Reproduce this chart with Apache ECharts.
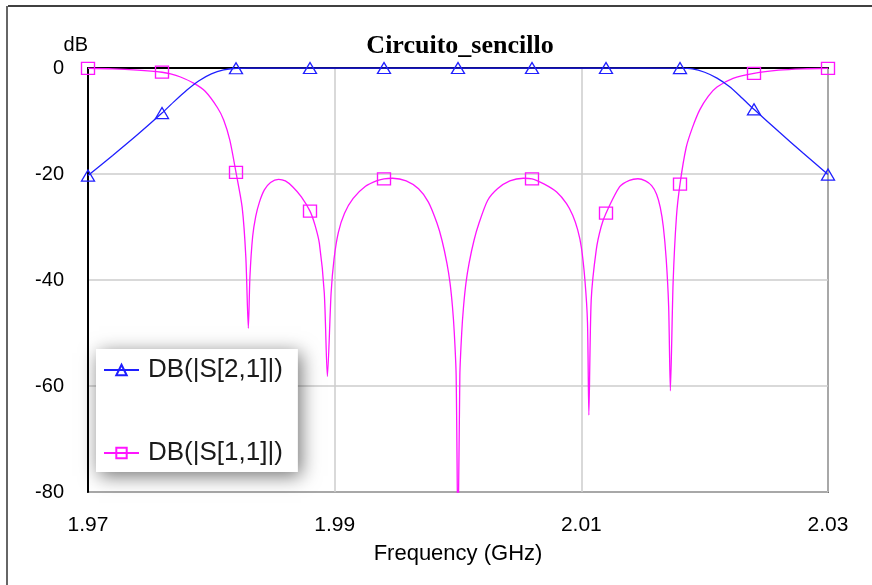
<!DOCTYPE html>
<html>
<head>
<meta charset="utf-8">
<script src="https://cdn.jsdelivr.net/npm/echarts@6/dist/echarts.min.js"></script>
<style>html,body{margin:0;padding:0;background:#fff}#c{width:872px;height:585px}</style>
</head>
<body>
<div id="c"></div>
<script>
// ---- data ----
const xTicks = [1.97, 1.99, 2.01, 2.03];
const markerFreqs = [1.970, 1.976, 1.982, 1.988, 1.994, 2.000, 2.006, 2.012, 2.018, 2.024, 2.030];

const s21Freq = [1.9700, 1.9720, 1.9740, 1.9760, 1.9770, 1.9780, 1.9790, 1.9800, 1.9810, 1.9820, 1.9830, 1.9880, 1.9940, 2.0000, 2.0060, 2.0120, 2.0180, 2.0190, 2.0200, 2.0210, 2.0220, 2.0230, 2.0240, 2.0260, 2.0280, 2.0300];
const s21dB   = [-20.3, -16.5, -12.6, -8.5, -6.3, -4.2, -2.4, -1.1, -0.35, -0.05, 0, 0, 0, 0, 0, 0, -0.02, -0.15, -0.8, -1.9, -3.5, -5.6, -7.8, -12.0, -16.1, -20.1];

const s11Freq = [
  1.9700, 1.9720, 1.9740, 1.9760, 1.9767, 1.9775, 1.9786, 1.9795, 1.9805, 1.9810, 1.9815, 1.9820, 1.9825, 1.9828, 1.98300,
  1.98313, 1.98335, 1.9836, 1.9839, 1.9843, 1.9848, 1.98545, 1.9860, 1.98659, 1.9873, 1.9880, 1.9884, 1.98876, 1.98916, 1.98941,
  1.98971, 1.98995, 1.9903, 1.9908, 1.9915, 1.9925, 1.9935, 1.9940, 1.9947, 1.9958, 1.9968, 1.9976, 1.9983, 1.9987, 1.9991, 1.99935, 1.99955, 1.9997, 1.99985, 2.0000,
  2.00015, 2.0003, 2.00045, 2.00065, 2.0009, 2.0013, 2.0017, 2.0024, 2.0032, 2.0042, 2.0053, 2.0060, 2.0070, 2.0080, 2.0088, 2.0093, 2.0097, 2.0100, 2.01029, 2.0105, 2.01061,
  2.0108, 2.01121, 2.0116, 2.0120, 2.01311, 2.0139, 2.01459, 2.0152, 2.0157, 2.0161, 2.0164, 2.01665, 2.01688, 2.01708, 2.01722,
  2.01744, 2.01771, 2.0180, 2.0185, 2.0190, 2.0196, 2.0203, 2.0210, 2.0223, 2.0240, 2.0260, 2.0280, 2.0300];
const s11dB = [
  -0.05, -0.15, -0.4, -0.8, -1.1, -1.7, -2.9, -4.4, -7.5, -9.8, -13.6, -19.7, -26.3, -35.8, -49.1,
  -39.4, -31.8, -28.0, -25.3, -23.0, -21.6, -21.0, -21.3, -22.4, -24.3, -27.0, -29.6, -33.1, -42.5, -58.2,
  -42.5, -36.0, -31.0, -27.4, -24.6, -22.3, -21.2, -20.9, -20.8, -21.3, -22.8, -25.3, -29.3, -32.5, -36.8, -40.5, -45.0, -50.0, -58.0, -90,
  -58.0, -50.0, -45.0, -40.5, -36.8, -32.5, -29.3, -25.0, -22.8, -21.3, -20.8, -20.9, -21.9, -23.4, -25.6, -27.8, -30.5, -33.8, -40.0, -48.0, -65.5,
  -43.8, -34.3, -30.0, -27.4, -22.4, -21.2, -20.9, -21.3, -22.2, -23.8, -26.3, -30.0, -36.0, -45.0, -60.9,
  -40.6, -28.1, -21.9, -15.0, -11.3, -7.9, -5.3, -3.6, -1.95, -1.0, -0.4, -0.15, -0.05];

const seriesNames = ['DB(|S[2,1]|)', 'DB(|S[1,1]|)'];

function build(freqs, vals, sym) {
  return freqs.map((f, i) => {
    const isMarker = markerFreqs.some(m => Math.abs(m - f) < 1e-6);
    return isMarker ? { value: [f, vals[i]], symbol: sym } : { value: [f, vals[i]], symbol: 'none' };
  });
}

const chart = echarts.init(document.getElementById('c'), null, { renderer: 'canvas' });
const BLUE = '#1f1fff', MAG = '#ff14ff';
chart.setOption({
  animation: false,
  backgroundColor: '#ffffff',
  title: {
    text: 'Circuito_sencillo', left: 455, top: 28, textAlign: 'center',
    textStyle: { fontFamily: 'Liberation Serif', fontWeight: 'bold', fontSize: 26, color: '#000' }
  },
  grid: { left: 88, right: 44, top: 68, bottom: 93, show: true, borderColor: '#000', borderWidth: 1.5, containLabel: false },
  xAxis: {
    type: 'value', min: 1.97, max: 2.03,
    name: 'Frequency (GHz)', nameLocation: 'middle', nameGap: 51,
    nameTextStyle: { fontFamily: 'Liberation Sans', fontSize: 22, color: '#000' },
    axisLine: { show: true, lineStyle: { color: '#000', width: 2 } },
    axisTick: { show: false, customValues: xTicks },
    axisLabel: { customValues: xTicks, margin: 23, fontFamily: 'Liberation Sans', fontSize: 21, color: '#000',
                 formatter: v => v.toFixed(2) },
    splitLine: { show: true, lineStyle: { color: '#cccccc', width: 1.5 } }
  },
  yAxis: {
    type: 'value', min: -80, max: 0, interval: 20,
    name: 'dB', nameLocation: 'end', nameGap: 13,
    nameTextStyle: { fontFamily: 'Liberation Sans', fontSize: 20, color: '#000', align: 'right' },
    axisLine: { show: true, lineStyle: { color: '#000', width: 2 } },
    axisTick: { show: false },
    axisLabel: { margin: 24, fontFamily: 'Liberation Sans', fontSize: 20, color: '#000' },
    splitLine: { show: true, lineStyle: { color: '#cccccc', width: 1.5 } }
  },
  legend: {
    orient: 'vertical', left: 96, top: 349,
    padding: [8, 15, 6, 7], itemGap: 57, itemWidth: 35, itemHeight: 13,
    backgroundColor: '#ffffff',
    shadowBlur: 18, shadowColor: 'rgba(0,0,0,0.55)', shadowOffsetX: 3, shadowOffsetY: 4,
    textStyle: { fontFamily: 'Liberation Sans', fontSize: 26, color: '#1a1a1a', padding: [0, 0, 0, 4] },
    data: seriesNames
  },
  series: [
    {
      name: seriesNames[0], type: 'line', data: build(s21Freq, s21dB, 'triangle'),
      symbol: 'triangle', symbolSize: [13, 11], showAllSymbol: true, smooth: 0.25,
      lineStyle: { color: BLUE, width: 1.3 },
      itemStyle: { color: 'rgba(255,255,255,0)', borderColor: BLUE, borderWidth: 1.3 },
      z: 3
    },
    {
      name: seriesNames[1], type: 'line', data: build(s11Freq, s11dB, 'rect'),
      symbol: 'rect', symbolSize: [13, 12], showAllSymbol: true, smooth: 0.25,
      lineStyle: { color: MAG, width: 1.3 },
      itemStyle: { color: 'rgba(255,255,255,0)', borderColor: MAG, borderWidth: 1.3 },
      z: 2
    }
  ],
  graphic: [
    { type: 'line', shape: { x1: 8, y1: 6, x2: 872, y2: 6 }, style: { stroke: '#000', lineWidth: 1.5 }, silent: true },
    { type: 'line', shape: { x1: 7, y1: 6, x2: 7, y2: 585 }, style: { stroke: '#666', lineWidth: 2 }, silent: true }
  ]
});
</script>
</body>
</html>
